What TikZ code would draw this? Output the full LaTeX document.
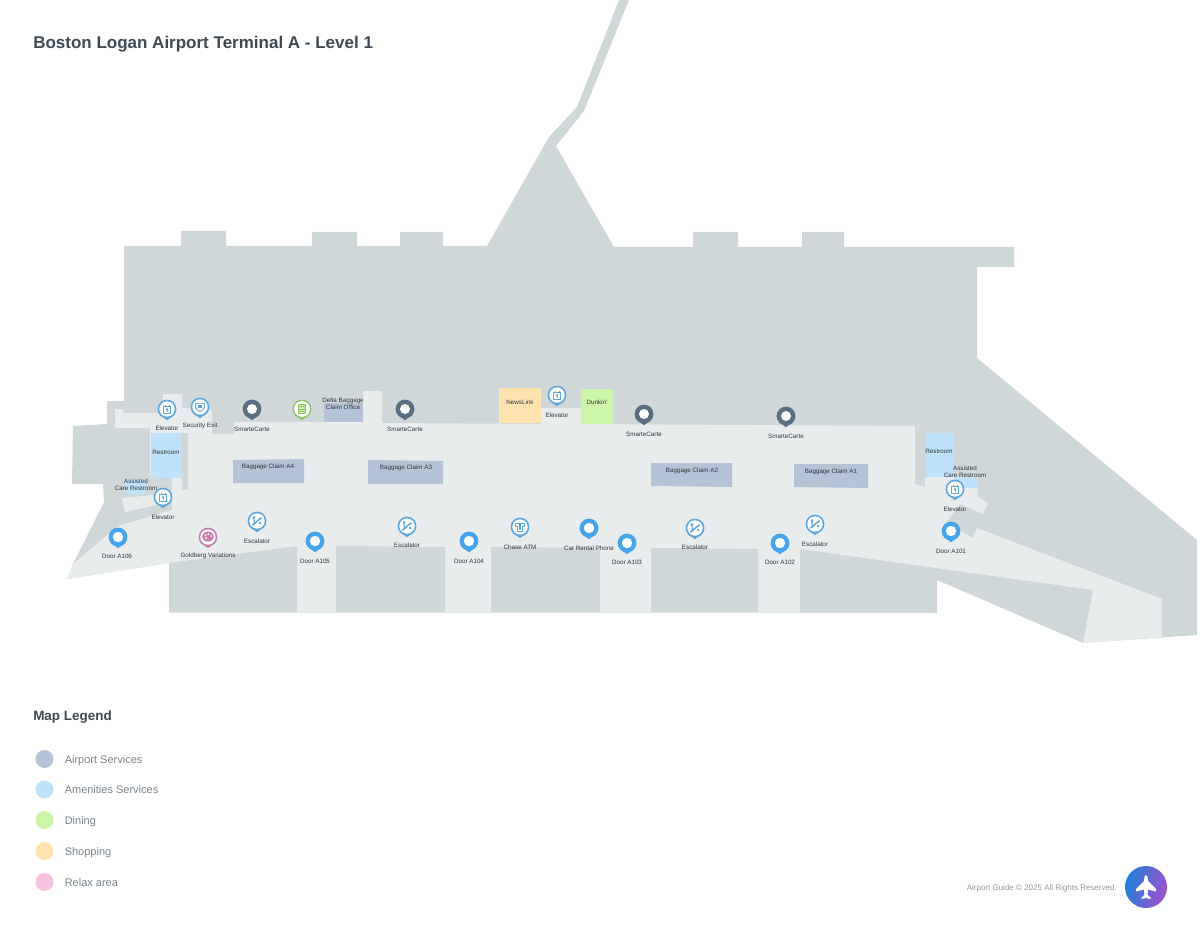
\documentclass[tikz,border=0pt]{standalone}
\usepackage{fontspec}
\setmainfont{Liberation Sans}
\definecolor{floordark}{HTML}{CFD7D9}
\definecolor{floorlight}{HTML}{E8ECED}
\definecolor{claimblue}{HTML}{B5C3D7}
\definecolor{restblue}{HTML}{C0E1FA}
\definecolor{shopyellow}{HTML}{FFE3AE}
\definecolor{dinegreen}{HTML}{CDF5A8}
\definecolor{relaxpink}{HTML}{F5C3DF}
\definecolor{doorblue}{HTML}{45A5EC}
\definecolor{iconblue}{HTML}{5AA7DF}
\definecolor{cartslate}{HTML}{5A6E82}
\definecolor{dineicon}{HTML}{8DC567}
\definecolor{relaxicon}{HTML}{C97FAE}
\definecolor{titleink}{HTML}{3D4A54}
\definecolor{labelink}{HTML}{30383D}
\definecolor{legendink}{HTML}{7A848B}
\definecolor{logoblue}{HTML}{1F80D8}
\definecolor{logopurple}{HTML}{A24FD0}
\tikzset{
  maplabel/.style={font=\fontsize{4.7}{5.6}\selectfont,text=labelink,align=center,inner sep=0pt,yshift=-.75pt},
  legendlabel/.style={font=\fontsize{8.25}{10}\selectfont,text=legendink,anchor=base west,inner sep=0pt},
  pinshape/.pic={
    \fill[#1] (0,0) circle (9.4);
    \fill[#1] (-7.4,5.8) -- (0,11.2) -- (7.4,5.8) -- cycle;
  },
  doorpin/.pic={
    \pic {pinshape=doorblue};
    \fill[white] (0,0) circle (5.2);
  },
  cartpin/.pic={
    \pic {pinshape=cartslate};
    \fill[white] (0,0) circle (5);
  },
  ringpin/.pic={
    \pic {pinshape=#1};
    \fill[white] (0,0) circle (7.7);
  },
  elevpin/.pic={
    \pic {ringpin=iconblue};
    \draw[iconblue,line width=.6pt] (-3.8,-2.6) rectangle (3.8,4.6);
    \draw[iconblue,line width=.6pt] (-2,-4.4) -- (-2,-2.6) (2,-4.4) -- (2,-2.6);
    \fill[iconblue] (0,-1.2) -- (1.4,1) -- (-1.4,1) -- cycle;
    \draw[iconblue,line width=.5pt] (0,1) -- (0,3.4);
  },
  shieldpin/.pic={
    \pic {ringpin=iconblue};
    \draw[iconblue,line width=.6pt] (-4.4,-3.8) -- (4.4,-3.8) -- (4.4,1) -- (0,4.8) -- (-4.4,1) -- cycle;
    \fill[iconblue] (-2,-1.8) rectangle (2,1.4);
  },
  escpin/.pic={
    \pic {ringpin=iconblue};
    \draw[iconblue,line width=1.1pt] (-4.6,4.2) -- (-1.4,1.8) -- (1.6,-1.2) -- (4.6,-3.2);
    \fill[iconblue] (-3,-3.4) circle (1.5);
    \draw[iconblue,line width=.9pt] (-3,-2) -- (-2.6,2);
    \fill[iconblue] (3,2) circle (1.3);
  },
  shirtpin/.pic={
    \pic {ringpin=iconblue};
    \draw[iconblue,line width=.7pt,fill=white] (-4.8,-3.8) -- (4.8,-3.8) -- (4.8,-.4) -- (2.6,-.4) -- (2.6,4.4) -- (-2.6,4.4) -- (-2.6,-.4) -- (-4.8,-.4) -- cycle;
    \fill[iconblue] (-.9,-2.6) rectangle (.9,3);
  },
  dinepin/.pic={
    \pic {pinshape=dineicon};
    \fill[white] (0,0) circle (7.9);
    \fill[dineicon] (-4.4,-5.4) rectangle (4.4,5.4);
    \foreach \gx in {-2.2,0,2.2}
      \foreach \gy in {-3.2,-1,1.2,3.4}
        \fill[dinegreen] (\gx-.8,\gy-.6) rectangle (\gx+.8,\gy+.6);
  },
  relaxpin/.pic={
    \pic {ringpin=relaxicon};
    \fill[relaxicon] (0,-.4) ellipse (6 and 5);
    \fill[white] (-2.4,-1.8) circle (1) (.4,-2.8) circle (1) (3,-1) circle (1) (-2,1.2) circle (1);
  },
}
\begin{document}
\begin{tikzpicture}[x=0.75pt,y=-0.75pt]
\useasboundingbox (0,0) rectangle (1200,927);
% floor
\fill[floordark] (124,246) -- (181,246) -- (181,231) -- (226,231) -- (226,246) -- (312,246) -- (312,232) -- (357,232) -- (357,246) -- (400,246) -- (400,232) -- (443,232) -- (443,246) -- (487,246) -- (549,137) -- (577,107) -- (619,0) -- (629,0) -- (584,111) -- (556,146) -- (614,247) -- (693,247) -- (693,232) -- (738,232) -- (738,247) -- (802,247) -- (802,232) -- (844,232) -- (844,247) -- (1014,247) -- (1014,267) -- (977,267) -- (977,358) -- (1197,540) -- (1197,635) -- (1083,643) -- (937,580) -- (937,613) -- (169,612) -- (169,563) -- (67,579) -- (73,564) -- (104,502) -- (103,484) -- (72,484) -- (73,426) -- (107,424) -- (107,401) -- (124,401) -- cycle;
\fill[floorlight] (115,409) -- (123,409) -- (123,413) -- (163,413) -- (163,394) -- (182,394) -- (182,408) -- (212,410) -- (212,434) -- (234,434) -- (234,422) -- (363,422) -- (363,391) -- (382,391) -- (382,423) -- (541,424) -- (541,408) -- (581,408) -- (581,424) -- (915,426) -- (915,484) -- (925,487) -- (925,477) -- (978,477) -- (978,497) -- (988,503) -- (983,514) -- (960,504) -- (947,521) -- (972,538) -- (977,528) -- (1162,599) -- (1162,637) -- (1083,643) -- (1093,590) -- (800,549) -- (800,613) -- (169,613) -- (169,563) -- (67,579) -- (73,564) -- (118,526) -- (172,510) -- (172,478) -- (150,478) -- (150,428) -- (115,428) -- cycle;
\fill[floorlight] (122,498) -- (125,512) -- (157,505) -- (153,495) -- cycle;
\fill[floordark] (182,433) -- (188,433) -- (188,489) -- (182,490) -- cycle;
\fill[floordark] (162,478) rectangle (171,489);
% blocks along the kerb
\fill[floordark] (169,563) -- (297,546) -- (297,612) -- (169,612) -- cycle;
\fill[floordark] (336,546) -- (445,547) -- (445,612) -- (336,612) -- cycle;
\fill[floordark] (491,547) -- (600,548) -- (600,612) -- (491,612) -- cycle;
\fill[floordark] (651,548) -- (758,549) -- (758,612) -- (651,612) -- cycle;
% units
\fill[claimblue] (233,460) -- (304,459) -- (304,483) -- (233,483) -- cycle;
\fill[claimblue] (368,460) -- (443,461) -- (443,484) -- (368,484) -- cycle;
\fill[claimblue] (651,463) -- (732,463) -- (732,487) -- (651,486) -- cycle;
\fill[claimblue] (794,464) -- (868,464) -- (868,488) -- (794,487) -- cycle;
\fill[claimblue] (324,403) rectangle (363,422);
\fill[restblue] (151,433) rectangle (182,478);
\fill[restblue] (126,480) rectangle (145,494);
\fill[restblue] (926,433) rectangle (954,477);
\fill[restblue] (954,477) rectangle (978,488);
\fill[shopyellow] (499,388) rectangle (541,423);
\fill[dinegreen] (581,389) rectangle (613,424);
% pins
\foreach \px/\py in {118/537,315/541,469/541,589/528,627/543,780/543,951/531}
  \pic at (\px,\py) {doorpin};
\foreach \px/\py in {252/409,405/409,644/414,786/416}
  \pic at (\px,\py) {cartpin};
\foreach \px/\py in {167/409,163/497,557/395,955/489}
  \pic at (\px,\py) {elevpin};
\foreach \px/\py in {257/521,407/526,695/528,815/524}
  \pic at (\px,\py) {escpin};
\pic at (200,407) {shieldpin};
\pic at (520,527) {shirtpin};
\pic at (302,409) {dinepin};
\pic at (208,537) {relaxpin};
% labels
\foreach \px/\py/\txt [count=\n] in {
  167/427/Elevator,200/425/Security Exit,252/428/SmarteCarte,405/428/SmarteCarte,
  644/433/SmarteCarte,786/435/SmarteCarte,166/451/Restroom,939/450/Restroom,
  163/516/Elevator,117/555/Door A106,208/555/Goldberg Variations,257/540/Escalator,
  315/560/Door A105,407/544/Escalator,469/560/Door A104,520/546/Chase ATM,
  589/547/Car Rental Phone,627/561/Door A103,695/546/Escalator,780/561/Door A102,
  815/543/Escalator,951/550/Door A101,955/508/Elevator,520/401/NewsLink,
  557/414/Elevator,597/401/Dunkin',268/466/Baggage Claim A4,406/467/Baggage Claim A3,
  692/470/Baggage Claim A2,831/471/Baggage Claim A1}
  \node[maplabel] (lbl\n) at (\px,\py) {\txt};
\node[maplabel] (deltalbl) at (343,403) {Delta Baggage\\Claim Office};
\node[maplabel] (assistleft) at (136,483.5) {Assisted\\Care Restroom};
\node[maplabel] (assistright) at (965,470.5) {Assisted\\Care Restroom};
% title and legend
\node[anchor=base west,inner sep=0pt,text=titleink,font=\bfseries\fontsize{12.75}{16}\selectfont] (maptitle) at (33,49) {Boston Logan Airport Terminal A - Level 1};
\node[anchor=base west,inner sep=0pt,text=titleink,font=\bfseries\fontsize{10.1}{12}\selectfont] (legendtitle) at (33,720) {Map Legend};
\foreach \ly/\lcol/\txt [count=\n] in {759/claimblue/Airport Services,789.5/restblue/Amenities Services,820/dinegreen/Dining,851/shopyellow/Shopping,882/relaxpink/Relax area}{
  \fill[\lcol] (44.5,\ly) circle (9);
  \node[legendlabel] (legend\n) at (64.5,\ly+4) {\txt};
}
% footer
\node[anchor=base east,inner sep=0pt,text=legendink!85!white,font=\fontsize{6}{7}\selectfont] (footer) at (1117,890) {Airport Guide © 2025 All Rights Reserved.};
\shade[left color=logoblue,right color=logopurple,shading angle=75] (1146,887) circle (21);
\fill[white] (1146,875) .. controls (1147.6,875) and (1148,878) .. (1148,881) -- (1156,889) -- (1156,891.5) -- (1148,889.5) -- (1147.6,895) -- (1150.5,897.5) -- (1150.5,899) -- (1146,898) -- (1141.5,899) -- (1141.5,897.5) -- (1144.4,895) -- (1144,889.5) -- (1136,891.5) -- (1136,889) -- (1144,881) .. controls (1144,878) and (1144.4,875) .. (1146,875) -- cycle;
\end{tikzpicture}
\end{document}
